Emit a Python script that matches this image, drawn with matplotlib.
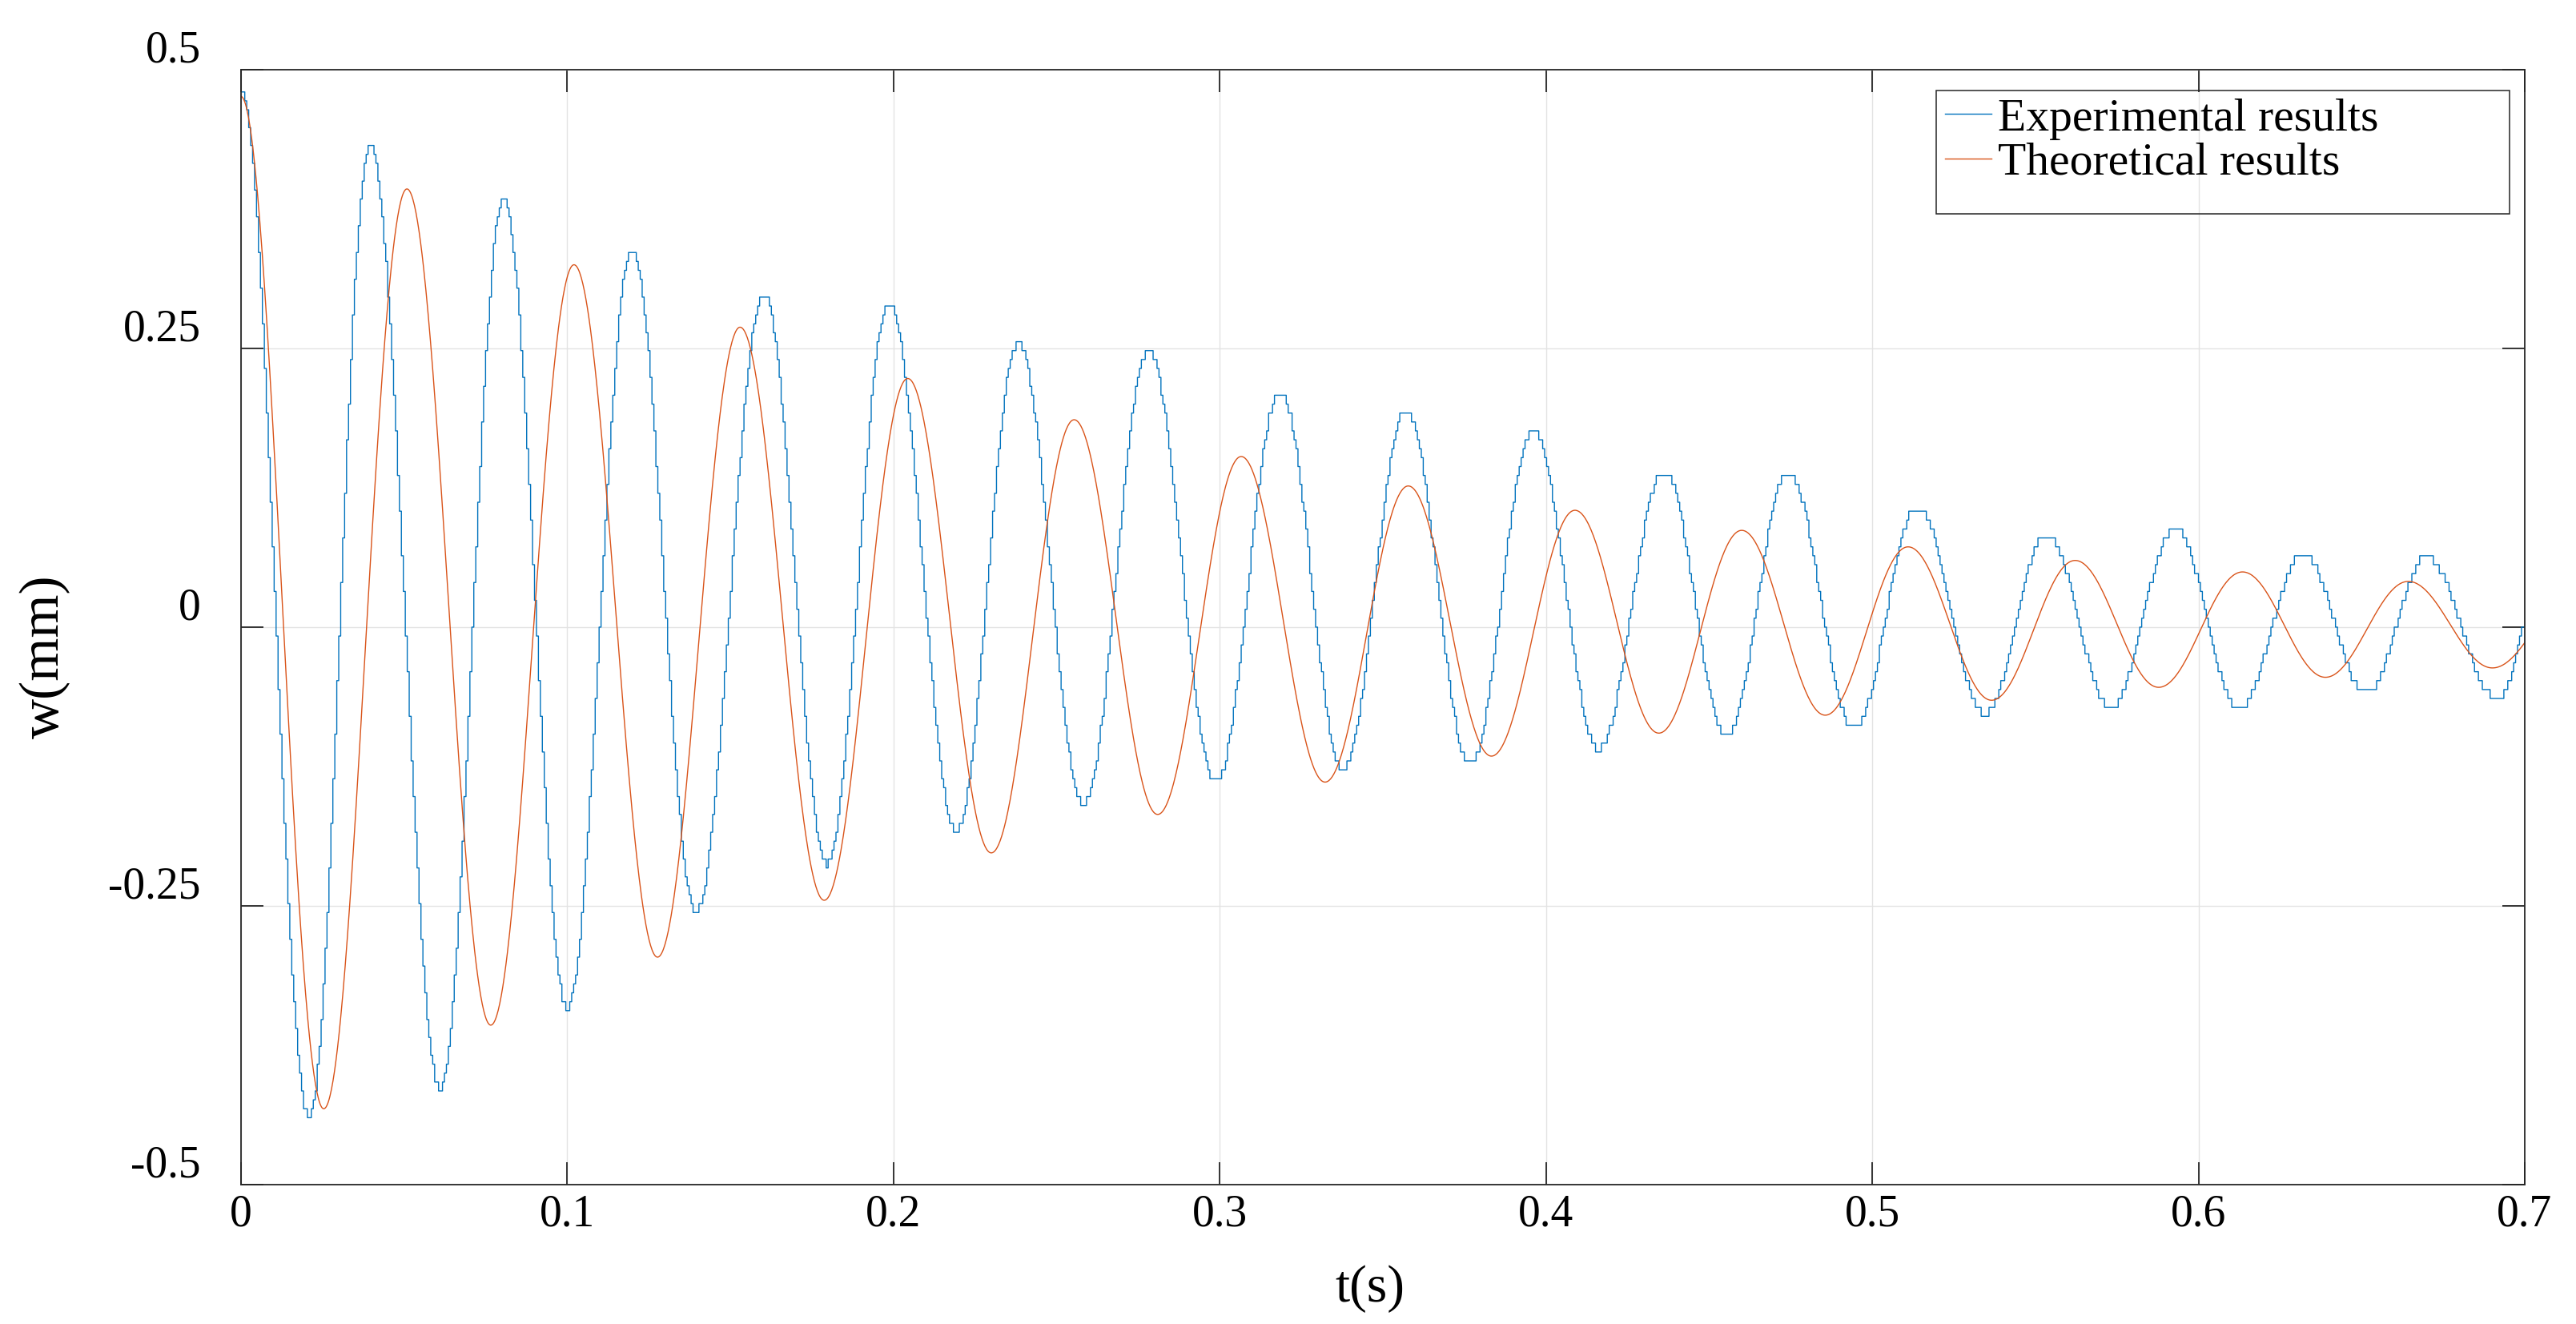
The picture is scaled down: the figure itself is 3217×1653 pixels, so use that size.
import numpy as np
import matplotlib.pyplot as plt
from matplotlib.patches import Rectangle
from matplotlib.transforms import ScaledTranslation

plt.rcParams['font.family'] = ['Liberation Serif', 'DejaVu Serif']
plt.rcParams['axes.unicode_minus'] = False

# extrema (time s, deflection mm)
t_exp = [0.0, 0.0207, 0.0394, 0.0609, 0.0803, 0.0998, 0.1197, 0.1392, 0.1601, 0.1794,
         0.1984, 0.2191, 0.2380, 0.2581, 0.2779, 0.2986, 0.3183, 0.3376, 0.3569, 0.3765,
         0.3958, 0.4159, 0.4360, 0.4552, 0.4740, 0.4942, 0.5137, 0.5343, 0.5532, 0.5729,
         0.5926, 0.6122, 0.6319, 0.6512, 0.6696, 0.6913, 0.7070]
w_exp = [0.481, -0.440, 0.4325, -0.415, 0.384, -0.342, 0.340, -0.256, 0.298, -0.213,
         0.292, -0.183, 0.2545, -0.159, 0.248, -0.139, 0.212, -0.128, 0.195, -0.123,
         0.177, -0.109, 0.140, -0.098, 0.139, -0.091, 0.108, -0.078, 0.084, -0.073,
         0.0887, -0.073, 0.066, -0.060, 0.063, -0.064, 0.060]

t_theo = [0.0, 0.0254, 0.0509, 0.0766, 0.1021, 0.1277, 0.1530, 0.1788, 0.2044, 0.2300,
          0.2554, 0.2810, 0.3066, 0.3323, 0.3578, 0.3833, 0.4089, 0.4346, 0.4600, 0.4856,
          0.5110, 0.5366, 0.5622, 0.5878, 0.6135, 0.6389, 0.6643, 0.6901, 0.7157]
w_theo = [0.476, -0.432, 0.393, -0.357, 0.325, -0.296, 0.269, -0.245, 0.223, -0.2025,
          0.186, -0.168, 0.153, -0.139, 0.1266, -0.1157, 0.1048, -0.0951, 0.0868, -0.079,
          0.072, -0.0656, 0.0598, -0.054, 0.0495, -0.045, 0.041, -0.0366, 0.033]

xticks = [0, 0.1, 0.2, 0.3, 0.4, 0.5, 0.6, 0.7]
xtick_labels = ['0', '0.1', '0.2', '0.3', '0.4', '0.5', '0.6', '0.7']
yticks = [-0.5, -0.25, 0, 0.25, 0.5]
ytick_labels = ['-0.5', '-0.25', '0', '0.25', '0.5']
series_names = ['Experimental results', 'Theoretical results']


# cosine-shaped swing between consecutive extrema
def swing(t_ext, w_ext, t):
    t_ext = np.asarray(t_ext)
    w_ext = np.asarray(w_ext)
    i = np.clip(np.searchsorted(t_ext, t, side='right') - 1, 0, len(t_ext) - 2)
    ph = (t - t_ext[i]) / (t_ext[i + 1] - t_ext[i])
    return w_ext[i] + (w_ext[i + 1] - w_ext[i]) * (1 - np.cos(np.pi * ph)) / 2


fig = plt.figure(figsize=(32.17, 16.53), dpi=100)
ax = fig.add_axes([0.0935, 0.1053, 0.8866, 0.8421])

# experimental signal is sampled & quantised -> staircase
ts = np.arange(0, 0.7006, 0.0006)
ws = np.round(swing(t_exp, w_exp, ts) / 0.008) * 0.008
ax.step(ts, ws, where='post', color='#0072BD', lw=1.0, label=series_names[0])

tt = np.linspace(0, 0.7, 3000)
ax.plot(tt, swing(t_theo, w_theo, tt), color='#D95319', lw=1.0, label=series_names[1])

ax.set_xlim(0, 0.7)
ax.set_ylim(-0.5, 0.5)
ax.set_xticks(xticks)
ax.set_xticklabels(xtick_labels)
ax.set_yticks(yticks)
ax.set_yticklabels(ytick_labels)
ax.grid(True, color='#e3e3e3', lw=1.0)
ax.set_axisbelow(True)
for s in ax.spines.values():
    s.set_color('#262626')
    s.set_linewidth(1.3)
ax.tick_params(direction='in', length=20, width=1.3, color='#262626',
               top=True, right=True, labelsize=40, labelcolor='black')
ax.tick_params(axis='x', pad=8)
ax.tick_params(axis='y', pad=36)
for lab in ax.get_yticklabels():
    lab.set_transform(lab.get_transform() + ScaledTranslation(0, 0.29, fig.dpi_scale_trans))

ax.set_xlabel('t(s)', fontsize=47)
ax.set_ylabel('w(mm)', fontsize=50)
ax.xaxis.set_label_coords(0.4945, -0.072)
ax.yaxis.set_label_coords(-0.0746, 0.4734)

leg = ax.legend(loc='upper left', bbox_to_anchor=(0.7515, 0.9330, 0.2227, 0.0),
                bbox_transform=fig.transFigure, mode='expand', borderaxespad=0,
                fontsize=41.5, handlelength=1.0, handletextpad=0.15, borderpad=0.2,
                labelspacing=0.05, frameon=False)

# MATLAB-style legend box, taller than its entries
fig.add_artist(Rectangle((0.7515, 1 - 267 / 1653), 0.2227, (267 - 112.7) / 1653,
                         transform=fig.transFigure, fill=False,
                         ec='#262626', lw=1.1))

fig.savefig('out.png', dpi=100)
